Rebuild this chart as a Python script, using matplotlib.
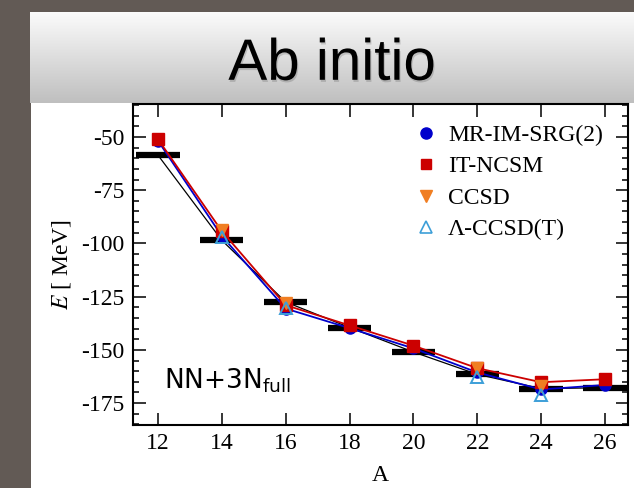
import numpy as np
import matplotlib
matplotlib.use("Agg")
import matplotlib.pyplot as plt
from matplotlib.patches import Rectangle
from matplotlib.lines import Line2D
import matplotlib.patheffects as pe

plt.rcParams['axes.unicode_minus'] = False

# oxygen chain, ground-state energies [MeV]
A = [12, 14, 16, 18, 20, 22, 24, 26]
E_exp = [-58.5, -98.5, -127.5, -139.5, -151.0, -161.5, -168.2, -167.8]
E_imsrg = [-51.7, -96.5, -130.6, -139.8, -149.3, -160.6, -168.6, -166.5]
E_ncsm = [-51.0, -94.2, -129.0, -138.5, -148.0, -158.6, -165.2, -163.8]

A_cc = [14, 16, 22, 24]
E_ccsd = [-93.7, -127.9, -158.4, -167.0]
E_lccsdt = [-97.0, -130.2, -162.6, -171.3]

W, H = 634, 488
bg = '#625a55'
c_blue, c_red, c_orange, c_lblue = '#0000cc', '#cc0000', '#f07e22', '#3d9fd8'

fig = plt.figure(figsize=(W / 100, H / 100), dpi=100)
fig.patch.set_facecolor(bg)
fig.add_artist(Rectangle((31 / W, 0), 1, (H - 12) / H, transform=fig.transFigure,
                         facecolor='white', edgecolor='none', zorder=0))

# title banner with grey gradient
bax = fig.add_axes([30 / W, (H - 103) / H, (W - 30) / W, 91 / H])
top = np.array([0.985, 0.985, 0.985])
bot = np.array([0.75, 0.75, 0.75])
t = np.linspace(0, 1, 100)[:, None]
grad = (top[None, :] * (1 - t) + bot[None, :] * t)[:, None, :]
bax.imshow(grad, aspect='auto', extent=[0, 1, 0, 1], interpolation='bilinear')
bax.set_xlim(0, 1)
bax.set_ylim(0, 1)
bax.axis('off')
bax.text(0.5, 0.255, 'Ab initio', ha='center', va='baseline', fontsize=42,
         family='Liberation Sans', color='black',
         path_effects=[pe.withSimplePatchShadow(offset=(0.8, -1.5), shadow_rgbFace='k', alpha=0.15)])

serif = 'Liberation Serif'
ax = fig.add_axes([133 / W, (H - 425) / H, (628 - 133) / W, (425 - 104) / H])

# experiment: thin line + thick bars
ax.plot(A, E_exp, color='black', lw=0.9, zorder=2)
ax.hlines(E_exp, np.array(A) - 0.68, np.array(A) + 0.68, color='black', lw=4.5, zorder=2)

ax.plot(A, E_imsrg, color=c_blue, lw=1.3, marker='o', ms=8, zorder=3)
ax.plot(A, E_ncsm, color=c_red, lw=1.3, marker='s', ms=8, zorder=4)
ax.plot(A_cc, E_ccsd, ls='none', marker='v', ms=9, color=c_orange, zorder=5)
ax.plot(A_cc, E_lccsdt, ls='none', marker='^', ms=9, mfc='none', mec=c_lblue,
        mew=1.4, zorder=6)

ax.set_xlim(11.22, 26.72)
ax.set_ylim(-185.3, -34.5)
ax.set_xticks(A)
ax.set_yticks([-50, -75, -100, -125, -150, -175])
ax.set_yticks(np.arange(-185, -34, 5), minor=True)
ax.tick_params(which='both', direction='in', top=True, right=True, labelsize=17, pad=6)
ax.tick_params(which='major', length=9, width=1.1)
ax.tick_params(which='minor', length=4.5, width=1.1)
for lab in ax.get_xticklabels() + ax.get_yticklabels():
    lab.set_family(serif)
for s in ax.spines.values():
    s.set_linewidth(1.5)

ax.set_xlabel('A', family=serif, fontsize=17, labelpad=8)
ax.set_ylabel(r'$E$ [ MeV]', family=serif, fontsize=17, labelpad=6, math_fontfamily='stix')

ax.text(0.062, 0.113, r'NN+3N$_{\mathrm{full}}$', transform=ax.transAxes, fontsize=19,
        family='DejaVu Sans', math_fontfamily='dejavusans')

handles = [
    Line2D([], [], ls='none', marker='o', ms=8, color=c_blue),
    Line2D([], [], ls='none', marker='s', ms=7, color=c_red),
    Line2D([], [], ls='none', marker='v', ms=8, color=c_orange),
    Line2D([], [], ls='none', marker='^', ms=8, mfc='none', mec=c_lblue, mew=1.2),
]
labels = ['MR-IM-SRG(2)', 'IT-NCSM', 'CCSD', 'Λ-CCSD(T)']
ax.legend(handles, labels, loc='upper right', bbox_to_anchor=(0.983, 0.988), frameon=False,
          numpoints=1, handlelength=0.8, handletextpad=0.55, labelspacing=0.42,
          borderaxespad=0.3, prop={'family': serif, 'size': 17})

fig.savefig('out.png', dpi=100, facecolor=fig.get_facecolor())
